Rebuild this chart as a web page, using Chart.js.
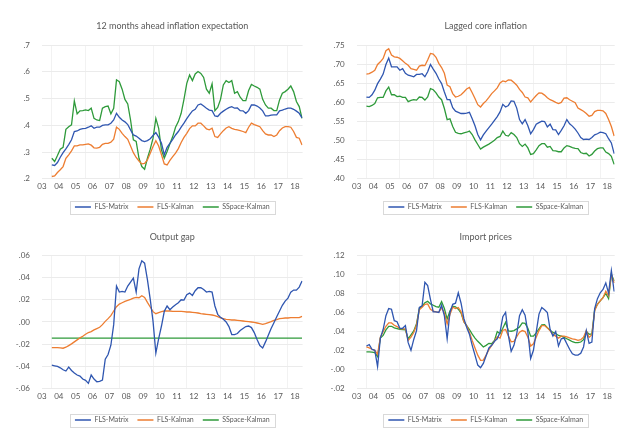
<!DOCTYPE html>
<html>
<head>
<meta charset="utf-8">
<script src="https://cdn.jsdelivr.net/npm/chart.js@4.4.1/dist/chart.umd.min.js"></script>
<style>
  body { margin: 0; background: #fff; }
  #wrap { position: relative; width: 640px; height: 444px; }
  .panel { position: absolute; width: 320px; height: 222px; }
</style>
</head>
<body>
<div id="wrap">
  <div class="panel" style="left:0;top:0"><canvas id="c1"></canvas></div>
  <div class="panel" style="left:320px;top:0"><canvas id="c2"></canvas></div>
  <div class="panel" style="left:0;top:222px"><canvas id="c3"></canvas></div>
  <div class="panel" style="left:320px;top:222px"><canvas id="c4"></canvas></div>
</div>
<script>
// monthly data sampled every second month, Aug 2003 .. Jun 2018
const dates = [];
for (let i = 0; i < 90; i++) dates.push(2003 + (7 + 2 * i) / 12);

const yearLabels = ['03', '04', '05', '06', '07', '08', '09', '10', '11', '12', '13', '14', '15', '16', '17', '18'];
const seriesNames = ['FLS-Matrix', 'FLS-Kalman', 'SSpace-Kalman'];

// 12 months ahead inflation expectation
const infExpMatrix = [.252,.250,.261,.281,.298,.312,.328,.346,.377,.379,
  .385,.388,.389,.393,.398,.389,.393,.393,.400,.402,
  .402,.408,.420,.445,.430,.420,.413,.403,.383,.364,
  .360,.352,.343,.339,.343,.350,.362,.373,.356,.333,
  .290,.318,.333,.348,.364,.377,.393,.408,.425,.440,
  .454,.460,.476,.480,.472,.464,.457,.455,.435,.433,
  .445,.453,.460,.466,.470,.464,.465,.455,.454,.445,
  .455,.476,.476,.472,.465,.454,.435,.435,.438,.439,
  .439,.454,.457,.461,.464,.464,.460,.453,.445,.428];
const infExpKalman = [.209,.211,.224,.234,.246,.277,.290,.305,.323,.323,
  .327,.327,.329,.331,.326,.316,.315,.318,.329,.333,
  .333,.337,.348,.393,.385,.370,.358,.348,.323,.298,
  .280,.267,.256,.258,.271,.296,.321,.343,.323,.290,
  .256,.252,.269,.283,.296,.313,.336,.355,.370,.388,
  .398,.398,.408,.408,.398,.387,.383,.389,.358,.355,
  .368,.380,.390,.395,.389,.385,.383,.380,.377,.373,
  .393,.408,.403,.399,.395,.380,.368,.364,.364,.358,
  .364,.380,.390,.395,.395,.393,.377,.355,.352,.327];
const infExpSSpace = [.277,.265,.287,.311,.318,.385,.395,.402,.491,.443,
  .454,.455,.458,.455,.464,.426,.420,.418,.464,.470,
  .472,.443,.464,.570,.563,.535,.497,.480,.420,.346,
  .340,.277,.246,.236,.277,.311,.352,.426,.389,.308,
  .277,.302,.331,.358,.393,.414,.445,.497,.557,.588,
  .567,.592,.601,.594,.579,.535,.520,.555,.455,.467,
  .497,.551,.567,.560,.567,.520,.526,.505,.492,.492,
  .530,.553,.547,.542,.535,.497,.476,.464,.464,.455,
  .455,.495,.520,.526,.535,.547,.526,.489,.470,.426];

// Lagged core inflation
const coreMatrix = [.614,.613,.620,.632,.649,.661,.674,.699,.716,.693,
  .693,.693,.684,.688,.676,.671,.669,.667,.673,.673,
  .675,.667,.680,.699,.687,.676,.661,.649,.627,.607,
  .607,.586,.577,.574,.571,.571,.572,.574,.557,.539,
  .516,.502,.515,.525,.534,.543,.553,.563,.575,.595,
  .588,.592,.604,.603,.585,.555,.544,.555,.539,.518,
  .529,.543,.547,.551,.550,.536,.543,.529,.528,.516,
  .527,.539,.555,.544,.538,.530,.520,.508,.503,.504,
  .503,.508,.515,.518,.522,.521,.518,.505,.494,.466];
const coreKalman = [.674,.675,.679,.684,.699,.706,.715,.735,.740,.724,
  .719,.718,.715,.709,.702,.697,.688,.686,.684,.695,
  .697,.696,.711,.728,.726,.718,.702,.691,.676,.645,
  .641,.623,.614,.616,.620,.627,.635,.639,.625,.610,
  .594,.588,.597,.604,.613,.623,.630,.638,.651,.656,
  .654,.659,.658,.652,.645,.634,.626,.614,.612,.601,
  .610,.618,.625,.624,.619,.612,.607,.604,.600,.597,
  .600,.611,.612,.607,.603,.599,.585,.581,.577,.571,
  .564,.566,.576,.579,.579,.578,.571,.555,.537,.512];
const coreSSpace = [.590,.589,.592,.597,.612,.613,.613,.630,.640,.620,
  .620,.615,.616,.613,.613,.602,.605,.607,.606,.614,
  .613,.606,.614,.636,.633,.625,.614,.607,.584,.555,
  .557,.537,.522,.519,.518,.520,.522,.525,.516,.502,
  .490,.478,.483,.487,.491,.496,.501,.508,.511,.525,
  .514,.512,.521,.516,.508,.492,.485,.491,.481,.464,
  .466,.476,.487,.492,.492,.483,.485,.474,.473,.471,
  .471,.481,.487,.485,.482,.480,.479,.469,.466,.467,
  .460,.464,.473,.479,.481,.481,.470,.466,.459,.438];

// Output gap
const gapMatrix = [-.0388,-.0394,-.0400,-.0412,-.0430,-.0441,-.0406,-.0436,-.0459,-.0477,
  -.0486,-.0513,-.0525,-.0552,-.0477,-.0513,-.0537,-.0534,-.0522,-.0334,
  -.0292,-.0209,-.0024,.0323,.0269,.0275,.0269,.0323,.0358,.0394,
  .0269,.0478,.0550,.0529,.0382,.0203,.0006,-.0280,-.0150,-.0036,
  .0096,.0144,.0111,.0135,.0156,.0173,.0200,.0197,.0245,.0260,
  .0239,.0281,.0308,.0308,.0293,.0269,.0275,.0269,.0144,.0069,
  .0042,.0024,.0000,-.0041,-.0113,-.0113,-.0104,-.0077,-.0059,-.0041,
  -.0036,-.0050,-.0095,-.0158,-.0212,-.0233,-.0179,-.0119,-.0059,-.0006,
  .0048,.0099,.0150,.0188,.0215,.0269,.0287,.0287,.0314,.0368];
const gapKalman = [-.0230,-.0230,-.0231,-.0233,-.0236,-.0227,-.0212,-.0197,-.0179,-.0161,
  -.0143,-.0128,-.0110,-.0095,-.0086,-.0071,-.0059,-.0047,-.0024,.0006,
  .0030,.0057,.0099,.0138,.0161,.0173,.0185,.0194,.0203,.0215,
  .0221,.0218,.0236,.0221,.0176,.0135,.0093,.0075,.0084,.0093,
  .0099,.0099,.0099,.0096,.0096,.0096,.0096,.0093,.0090,.0090,
  .0087,.0084,.0081,.0075,.0072,.0069,.0066,.0063,.0057,.0048,
  .0036,.0030,.0024,.0021,.0018,.0018,.0015,.0012,.0009,.0006,
  .0003,.0000,-.0003,-.0009,-.0015,-.0021,-.0015,-.0006,.0003,.0015,
  .0021,.0030,.0033,.0036,.0036,.0039,.0039,.0039,.0039,.0051];
const gapSSpaceDates = [dates[0], dates[dates.length - 1]];
const gapSSpace = [-.0145, -.0145];

// Import prices
const impMatrix = [.0248,.0262,.0214,.0203,.0031,.0331,.0421,.0566,.0641,.0634,
  .0514,.0503,.0434,.0434,.0462,.0283,.0203,.0317,.0410,.0652,
  .0669,.0917,.0883,.0738,.0607,.0607,.0600,.0676,.0566,.0324,
  .0600,.0686,.0697,.0807,.0697,.0538,.0445,.0372,.0255,.0152,
  .0048,.0021,.0066,.0145,.0228,.0255,.0297,.0324,.0393,.0555,
  .0600,.0359,.0193,.0255,.0376,.0566,.0628,.0572,.0393,.0117,
  .0203,.0393,.0583,.0652,.0628,.0600,.0421,.0352,.0400,.0248,
  .0324,.0331,.0272,.0214,.0166,.0152,.0152,.0172,.0238,.0410,
  .0276,.0290,.0641,.0745,.0807,.0841,.0910,.0800,.1040,.0820];
const impKalman = [.0238,.0228,.0214,.0203,.0160,.0341,.0397,.0455,.0490,.0490,
  .0466,.0452,.0431,.0428,.0428,.0307,.0341,.0390,.0469,.0628,
  .0655,.0686,.0690,.0634,.0614,.0607,.0603,.0648,.0597,.0479,
  .0579,.0655,.0641,.0652,.0607,.0503,.0462,.0393,.0307,.0228,
  .0152,.0097,.0100,.0152,.0210,.0255,.0300,.0345,.0331,.0414,
  .0421,.0352,.0293,.0297,.0345,.0393,.0410,.0400,.0341,.0248,
  .0272,.0341,.0410,.0462,.0462,.0438,.0407,.0372,.0352,.0331,
  .0352,.0352,.0345,.0334,.0324,.0317,.0307,.0314,.0341,.0410,
  .0338,.0366,.0617,.0686,.0721,.0755,.0824,.0772,.1000,.0910];
const impSSpace = [.0186,.0186,.0183,.0179,.0138,.0331,.0359,.0417,.0455,.0455,
  .0438,.0431,.0424,.0421,.0417,.0324,.0366,.0407,.0483,.0641,
  .0666,.0703,.0717,.0690,.0676,.0662,.0655,.0714,.0641,.0531,
  .0614,.0666,.0659,.0634,.0593,.0503,.0462,.0421,.0372,.0331,
  .0297,.0269,.0238,.0255,.0276,.0272,.0307,.0400,.0376,.0434,
  .0497,.0407,.0403,.0410,.0428,.0448,.0490,.0486,.0434,.0352,
  .0352,.0386,.0428,.0469,.0472,.0441,.0414,.0390,.0379,.0359,
  .0352,.0338,.0324,.0310,.0293,.0283,.0283,.0290,.0314,.0400,
  .0372,.0376,.0628,.0686,.0721,.0755,.0800,.0745,.1000,.0930];

const colors = ['#2f56b0', '#ed7d31', '#2e9a3a'];
const FONT = 'Lato, "Open Sans", sans-serif';
const TEXT = '#595959';

// thin grey frame round the legend entries
const legendFrame = {
  id: 'legendFrame',
  afterDraw(chart) {
    const boxes = chart.legend && chart.legend.legendHitBoxes;
    if (!boxes || !boxes.length) return;
    const l = Math.min(...boxes.map(b => b.left));
    const r = Math.max(...boxes.map(b => b.left + b.width));
    const t = Math.min(...boxes.map(b => b.top));
    const btm = Math.max(...boxes.map(b => b.top + b.height));
    const ctx = chart.ctx;
    ctx.save();
    ctx.strokeStyle = '#d9d9d9';
    ctx.lineWidth = 1;
    ctx.strokeRect(Math.round(l - 5) + 0.5, Math.round(t - 3) + 0.5, Math.round(r - l + 10), Math.round(btm - t + 6));
    ctx.restore();
  }
};

function points(xs, ys) {
  return ys.map((v, i) => ({ x: xs[i], y: v }));
}

function fmt(dec) {
  return v => v.toFixed(dec).replace('0.', '.');
}

function makeChart(id, title, series, yMin, yMax, yStep, dec, col, row) {
  const side = col === 0 ? { l: 4, r: 17.4, yw: 38 } : { l: 4, r: 25.3, yw: 32.7 };
  const vert = row === 0
    ? { top: 10, tTop: 10.6, tBottom: 13.6, xExtra: 0, bottom: 1.5 }
    : { top: 0, tTop: 9.6, tBottom: 12.9, xExtra: 3.2, bottom: 10.5 };
  new Chart(document.getElementById(id), {
    type: 'line',
    data: {
      datasets: series.map((s, i) => ({
        label: seriesNames[i],
        data: points(s.x, s.y),
        borderColor: colors[i],
        backgroundColor: colors[i],
        borderWidth: 1.3,
        pointRadius: 0,
        tension: 0
      }))
    },
    options: {
      responsive: true,
      maintainAspectRatio: false,
      animation: false,
      events: [],
      layout: { padding: { left: side.l, right: side.r, top: vert.top, bottom: vert.bottom } },
      plugins: {
        title: {
          display: true,
          fullSize: false,
          text: title,
          color: TEXT,
          font: { family: FONT, size: 9, weight: 'normal' },
          padding: { top: vert.tTop, bottom: vert.tBottom }
        },
        legend: {
          position: 'bottom',
          fullSize: false,
          labels: {
            color: TEXT,
            font: { family: FONT, size: 7 },
            usePointStyle: true,
            pointStyle: 'line',
            pointStyleWidth: 16,
            padding: 9
          }
        },
        tooltip: { enabled: false }
      },
      scales: {
        x: {
          type: 'linear',
          min: 2003,
          max: 2018.45,
          grid: {
            drawTicks: false,
            color: c => (c.tick && Number.isInteger(c.tick.value)) ? 'rgba(0,0,0,0)' : '#f2f2f2'
          },
          border: { display: false },
          ticks: {
            color: TEXT,
            font: { family: FONT, size: 8 },
            padding: 3,
            maxRotation: 0,
            autoSkip: false,
            callback: v => Number.isInteger(v) ? yearLabels[v - 2003] : ''
          },
          // year labels, plus a faint vertical rule every two years from the first observation
          afterBuildTicks: s => {
            const t = yearLabels.map((_, i) => 2003 + i)
              .concat(dates.filter((_, i) => i % 12 === 0));
            s.ticks = t.sort((a, b) => a - b).map(v => ({ value: v }));
          },
          afterFit: s => { s.height += vert.xExtra; }
        },
        y: {
          min: yMin,
          max: yMax,
          grid: { color: '#ebebeb', drawTicks: false },
          border: { display: false },
          ticks: {
            stepSize: yStep,
            color: TEXT,
            font: { family: FONT, size: 8 },
            padding: 12,
            callback: fmt(dec)
          },
          afterFit: s => { s.width = side.yw; }
        }
      }
    },
    plugins: [legendFrame]
  });
}

makeChart('c1', '12 months ahead inflation expectation', [
  { x: dates, y: infExpMatrix },
  { x: dates, y: infExpKalman },
  { x: dates, y: infExpSSpace }
], 0.2, 0.7, 0.1, 1, 0, 0);

makeChart('c2', 'Lagged core inflation', [
  { x: dates, y: coreMatrix },
  { x: dates, y: coreKalman },
  { x: dates, y: coreSSpace }
], 0.4, 0.75, 0.05, 2, 1, 0);

makeChart('c3', 'Output gap', [
  { x: dates, y: gapMatrix },
  { x: dates, y: gapKalman },
  { x: gapSSpaceDates, y: gapSSpace }
], -0.06, 0.06, 0.02, 2, 0, 1);

makeChart('c4', 'Import prices', [
  { x: dates, y: impMatrix },
  { x: dates, y: impKalman },
  { x: dates, y: impSSpace }
], -0.02, 0.12, 0.02, 2, 1, 1);
</script>
</body>
</html>
